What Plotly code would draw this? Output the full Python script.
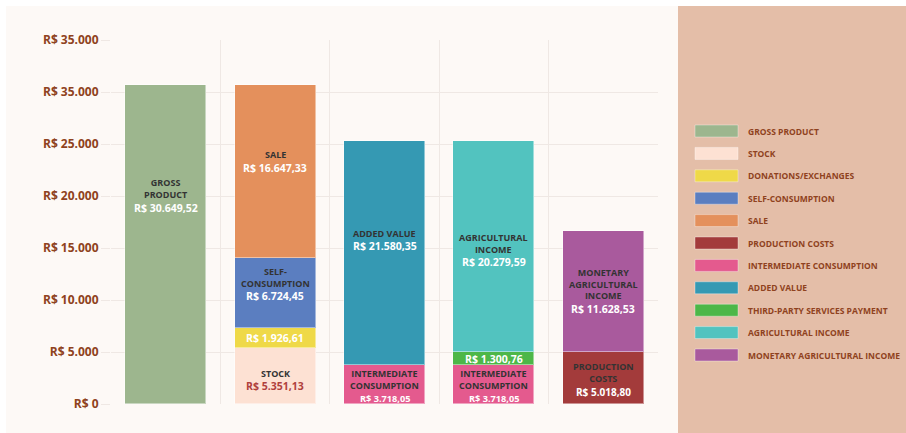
import plotly.graph_objects as go

# column positions (0..4), values in R$
gross_product = [30649.52]
stock = [5351.13]
donations = [1926.61]
self_consumption = [6724.45]
sale = [16647.33]
production_costs = [5018.80]
intermediate = [3718.05, 3718.05]
added_value = [21580.35]
third_party = [1300.76]
agri_income = [20279.59]
monetary_income = [11628.53]

y_ticks = [0, 5000, 10000, 15000, 20000, 25000, 30000, 35000]
y_tick_text = ["R$ 0", "R$ 5.000", "R$ 10.000", "R$ 15.000", "R$ 20.000",
               "R$ 25.000", "R$ 35.000", "R$ 35.000"]

# name, bar label lines, x positions, values, colour
series = [
    ("GROSS PRODUCT", ["GROSS", "PRODUCT"], [0], gross_product, "#9db68e"),
    ("STOCK", ["STOCK"], [1], stock, "#fde1d3"),
    ("DONATIONS/EXCHANGES", [], [1], donations, "#efd948"),
    ("SELF-CONSUMPTION", ["SELF-", "CONSUMPTION"], [1], self_consumption, "#5b7ec0"),
    ("SALE", ["SALE"], [1], sale, "#e4905c"),
    ("PRODUCTION COSTS", ["PRODUCTION", "COSTS"], [4], production_costs, "#a33b3b"),
    ("INTERMEDIATE CONSUMPTION", ["INTERMEDIATE", "CONSUMPTION"], [2, 3], intermediate, "#e45a8e"),
    ("ADDED VALUE", ["ADDED VALUE"], [2], added_value, "#3599b3"),
    ("THIRD-PARTY SERVICES PAYMENT", [], [3], third_party, "#4db748"),
    ("AGRICULTURAL INCOME", ["AGRICULTURAL", "INCOME"], [3], agri_income, "#52c3bf"),
    ("MONETARY AGRICULTURAL INCOME", ["MONETARY", "AGRICULTURAL", "INCOME"], [4], monetary_income, "#a95a9d"),
]

# small label nudges (px) to follow the original placement
label_shift = {"GROSS PRODUCT": 49, "SALE": 10, "SELF-CONSUMPTION": 9, "ADDED VALUE": 13,
               "STOCK": -4, "AGRICULTURAL INCOME": -4, "INTERMEDIATE CONSUMPTION": -2,
               "PRODUCTION COSTS": -2}
value_colour = {"STOCK": "#b0403c"}
value_size = {"INTERMEDIATE CONSUMPTION": 9.2, "PRODUCTION COSTS": 10}

W, H = 906, 433
L, R, T, B = 111, 248, 40, 29
FONT = "Open Sans"
BROWN = "#8f4220"


def px_x(p):
    return (p - L) / (W - L - R)


def px_y(p):
    return (H - B - p) / (H - T - B)


def brl(v):
    s = f"{v:,.2f}"
    return "R$ " + s.replace(",", "#").replace(".", ",").replace("#", ".")


fig = go.Figure()
base = {}
annotations = []
for name, lines, xs, vals, col in series:
    fig.add_trace(go.Bar(
        x=xs, y=vals, name=name, width=0.74,
        marker=dict(color=col, line=dict(color="rgba(255,255,255,0.45)", width=1)),
        showlegend=False, hoverinfo="y",
    ))
    n = len(lines)
    shift = label_shift.get(name, 0)
    for x, v in zip(xs, vals):
        b = base.get(x, 0)
        base[x] = b + v
        yc = b + v / 2
        if n:
            annotations.append(dict(
                x=x, y=yc, xref="x", yref="y", yanchor="middle",
                text="<br>".join(f"<b>{t}</b>" for t in lines), showarrow=False,
                yshift=shift + 7,
                font=dict(family=FONT, size=9, color="#333333"),
            ))
        annotations.append(dict(
            x=x, y=yc, xref="x", yref="y", yanchor="middle",
            text=f"<b>{brl(v)}</b>", showarrow=False,
            yshift=shift - 6 * n,
            font=dict(family=FONT, size=value_size.get(name, 10.5),
                      color=value_colour.get(name, "white")),
        ))

# legend panel drawn by hand
shapes = [
    dict(type="rect", xref="paper", yref="paper", layer="below",
         x0=px_x(6), x1=px_x(678), y0=px_y(H), y1=px_y(6),
         fillcolor="#fdf9f6", line=dict(width=0)),
    dict(type="rect", xref="paper", yref="paper", layer="below",
         x0=px_x(678), x1=px_x(W), y0=px_y(H), y1=px_y(6),
         fillcolor="#e4bea8", line=dict(width=0)),
]
for i, (name, lines, xs, vals, col) in enumerate(series):
    yc = 131 + i * 22.4
    shapes.append(dict(type="rect", xref="paper", yref="paper",
                       x0=px_x(695), x1=px_x(738), y0=px_y(yc + 6), y1=px_y(yc - 6),
                       fillcolor=col, line=dict(color="rgba(255,255,255,0.35)", width=1)))
    annotations.append(dict(
        x=px_x(746), y=px_y(yc), xref="paper", yref="paper",
        xanchor="left", yanchor="middle",
        text=f"<b>{name}</b>", showarrow=False,
        font=dict(family=FONT, size=8.5, color=BROWN),
    ))

fig.update_layout(
    width=W, height=H,
    margin=dict(l=L, r=R, t=T, b=B),
    barmode="stack", bargap=0,
    paper_bgcolor="white", plot_bgcolor="rgba(0,0,0,0)",
    shapes=shapes, annotations=annotations,
    font=dict(family=FONT),
)
fig.update_xaxes(
    range=[-0.5, 4.5], tickvals=[-0.5, 0.5, 1.5, 2.5, 3.5, 4.5],
    showticklabels=False, showgrid=True, gridcolor="#efe8e4", gridwidth=1,
    zeroline=False,
)
fig.update_yaxes(
    range=[0, 35000], tickvals=y_ticks, ticktext=y_tick_text,
    showgrid=True, gridcolor="#efe8e4", gridwidth=1, zeroline=False,
    ticks="outside", ticklen=9, tickcolor="#efe8e4",
    tickfont=dict(family=FONT, size=12, color=BROWN, weight="bold"),
)

fig.write_html("out.html", config={"displayModeBar": False},
               post_script="document.body.style.margin='0';")
